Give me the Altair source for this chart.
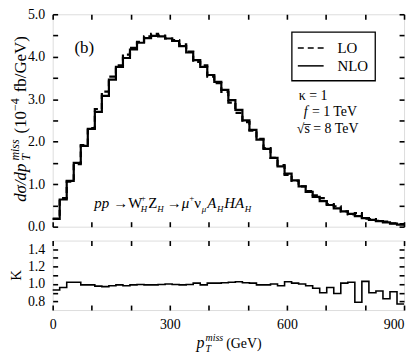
import altair as alt
import pandas as pd

# ---------------- data ----------------
bin_lo = [0, 18, 36, 54, 72, 90, 108, 126, 144, 162,
          180, 198, 216, 234, 252, 270, 288, 306, 324, 342,
          360, 378, 396, 414, 432, 450, 468, 486, 504, 522,
          540, 558, 576, 594, 612, 630, 648, 666, 684, 702,
          720, 738, 756, 774, 792, 810, 828, 846, 864, 882]
bin_hi_last = 900

nlo = [0.18, 0.64, 1.08, 1.50, 1.90, 2.30, 2.70, 3.08, 3.46, 3.76,
       3.97, 4.17, 4.33, 4.44, 4.49, 4.48, 4.43, 4.37, 4.25, 4.10,
       3.92, 3.76, 3.57, 3.41, 3.22, 2.98, 2.75, 2.50, 2.28, 2.05,
       1.83, 1.62, 1.42, 1.25, 1.09, 0.95, 0.82, 0.70, 0.60, 0.51,
       0.43, 0.36, 0.30, 0.25, 0.20, 0.16, 0.13, 0.10, 0.07, 0.05]

lo = [0.19, 0.67, 1.06, 1.47, 1.92, 2.32, 2.77, 3.18, 3.53, 3.80,
      4.05, 4.21, 4.35, 4.48, 4.54, 4.50, 4.43, 4.39, 4.29, 4.12,
      3.88, 3.80, 3.53, 3.38, 3.17, 2.92, 2.68, 2.46, 2.26, 2.07,
      1.85, 1.62, 1.45, 1.22, 1.08, 0.95, 0.84, 0.74, 0.67, 0.53,
      0.48, 0.36, 0.29, 0.32, 0.19, 0.18, 0.14, 0.12, 0.08, 0.06]

kfac = [0.93, 0.96, 1.02, 1.02, 0.99, 0.99, 0.975, 0.97, 0.98, 0.99,
        0.98, 0.99, 0.995, 0.99, 0.99, 0.995, 1.00, 0.995, 0.99, 0.995,
        1.01, 0.99, 1.01, 1.01, 1.015, 1.02, 1.025, 1.015, 1.01, 0.99,
        0.99, 1.00, 0.98, 1.025, 1.01, 1.00, 0.98, 0.95, 0.90, 0.96,
        0.89, 1.01, 1.02, 0.79, 1.03, 0.90, 0.92, 0.83, 0.91, 0.77]

x_ticks = [0, 100, 200, 300, 400, 500, 600, 700, 800, 900]
y_ticks_top = [0, 0.5, 1, 1.5, 2, 2.5, 3, 3.5, 4, 4.5, 5]
y_ticks_k = [0.8, 0.9, 1.0, 1.1, 1.2, 1.3, 1.4]

series_names = ["LO", "NLO"]

# ---------------- tables ----------------
edges = bin_lo + [bin_hi_last]
top_df = pd.DataFrame({
    "pt": edges + edges,
    "val": lo + [lo[-1]] + nlo + [nlo[-1]],
    "series": [series_names[0]] * len(edges) + [series_names[1]] * len(edges),
})
k_df = pd.DataFrame({"pt": edges, "k": kfac + [kfac[-1]]})

# ---------------- styling ----------------
SERIF = "Liberation Serif"
W, H1, H2 = 354, 214, 70
TK = 5

WID = {' ': .25, '(': .333, ')': .333, '/': .278, '.': .25, '=': .564, '+': .564,
       '\u2212': .564, '\u2192': .75, 'a': .444, 'b': .5, 'd': .5, 'e': .444,
       'f': .333, 'i': .278, 'm': .722, 'p': .5, 's': .389, 'G': .722, 'V': .722,
       'T': .611, 'W': .833, 'Z': .611, 'A': .65, 'H': .722, 'K': .722,
       '\u03c3': .55, '\u03bc': .5, '\u03bd': .5}


def tw(s, size):
    return sum(WID.get(c, 0.5) for c in s) * size


def piece(txt, x, y, size, italic=False, angle=0, align="left", baseline="alphabetic"):
    kw = dict(text=txt, font=SERIF, fontSize=size, color="black", align=align, baseline=baseline)
    if italic:
        kw["fontStyle"] = "italic"
    if angle:
        kw["angle"] = angle
    return alt.Chart(pd.DataFrame({"o": [0]})).mark_text(**kw).encode(
        x=alt.value(x), y=alt.value(y))


def rich(segs, x0, y0, angle=0):
    """segs: list of (gap_before, [(text, size, italic, shift), ...])"""
    out, adv = [], 0.0
    for gap, seg in segs:
        adv += gap
        w = 0.0
        for (t, s, it, sh) in seg:
            if angle == 0:
                px, py = x0 + adv, y0 - sh
            else:
                px, py = x0 - sh, y0 - adv
            out.append(piece(t, px, py, s, it, angle))
            w = max(w, tw(t, s))
        adv += w
    return out


def ax(orient, values, labels=False, label_expr=None, pad=8, label_align=None):
    kw = dict(orient=orient, values=values, domain=False, grid=False, ticks=True,
              tickSize=TK, offset=-TK, tickWidth=1.6, tickColor="black",
              labels=labels, title=None)
    if labels:
        kw.update(labelExpr=label_expr, labelPadding=pad, labelFont=SERIF,
                  labelFontSize=14, labelColor="black", labelFlush=False,
                  labelOverlap=False, labelBound=False)
    if label_align is not None:
        kw["labelAlign"] = label_align
    return alt.Axis(**kw)


xscale = alt.Scale(domain=[0, 900], nice=False, zero=False)
y1scale = alt.Scale(domain=[0, 5], nice=False)
y2scale = alt.Scale(domain=[0.7, 1.5], nice=False, zero=False)

# ---------------- top panel ----------------
lines = alt.Chart(top_df).mark_line(interpolate="step-after", color="black", strokeWidth=2.2).encode(
    x=alt.X("pt:Q", scale=xscale, axis=ax("bottom", x_ticks)),
    y=alt.Y("val:Q", scale=y1scale,
            axis=ax("left", y_ticks_top, True,
                    "datum.value % 1 === 0 ? format(datum.value, '.1f') : ''")),
    strokeDash=alt.StrokeDash("series:N", legend=None,
                              scale=alt.Scale(domain=series_names, range=[[6, 4], [1, 0]])),
)
mirror_top = alt.Chart(top_df).mark_line(strokeOpacity=0).encode(
    x=alt.X("pt:Q", scale=xscale, axis=ax("top", x_ticks)),
    y=alt.Y("val:Q", scale=y1scale, axis=ax("right", y_ticks_top)),
)

legend_box = alt.Chart(pd.DataFrame({"o": [0]})).mark_rect(
    fill="white", stroke="black", strokeWidth=1.3).encode(
    x=alt.value(241), x2=alt.value(325), y=alt.value(18), y2=alt.value(67))
leg_lo = alt.Chart(pd.DataFrame({"o": [0]})).mark_rule(
    color="black", strokeWidth=1.5, strokeDash=[6, 4]).encode(
    x=alt.value(247), x2=alt.value(273), y=alt.value(34))
leg_nlo = alt.Chart(pd.DataFrame({"o": [0]})).mark_rule(
    color="black", strokeWidth=1.5).encode(
    x=alt.value(247), x2=alt.value(273), y=alt.value(52))

annots = [
    piece(series_names[0], 287, 34, 15, baseline="middle"),
    piece(series_names[1], 287, 52, 15, baseline="middle"),
    piece("(b)", 22, 34, 17, baseline="middle"),
    piece("\u03ba = 1", 248, 82, 14, baseline="middle"),
    piece("f", 253, 99, 14, italic=True, baseline="middle"),
    piece("= 1 TeV", 253 + tw("f ", 14), 99, 14, baseline="middle"),
    piece("\u221as\u0305 = 8 TeV", 246, 116, 14, baseline="middle"),
]

B, S = 15, 9
process = rich([
    (0, [("pp", B, True, 0)]),
    (4, [("\u2192", B, False, 0)]),
    (4, [("W", B, False, 0)]),
    (0, [("+", S, False, 7), ("H", S, True, -4)]),
    (1, [("Z", B, False, 0)]),
    (0, [("H", S, True, -4)]),
    (3, [("\u2192", B, False, 0)]),
    (4, [("\u03bc", B, True, 0)]),
    (0, [("+", S, False, 7)]),
    (0, [("\u03bd", B, False, 0)]),
    (0, [("\u03bc", S, True, -4)]),
    (1, [("A", B, True, 0)]),
    (0, [("H", S, True, -4)]),
    (1, [("H", B, True, 0)]),
    (0, [("A", B, True, 0)]),
    (0, [("H", S, True, -4)]),
], 42, 195)

ytitle = rich([
    (0, [("d\u03c3/dp", 17, True, 0)]),
    (2, [("miss", 12, True, 7), ("T", 12, True, -4)]),
    (6, [("(10", 17, False, 0)]),
    (0, [("\u22124", 12, False, 7)]),
    (6, [("fb/GeV)", 17, False, 0)]),
], -27, 189, angle=270)

top = alt.layer(lines, mirror_top, legend_box, leg_lo, leg_nlo, *annots, *process, *ytitle).properties(
    width=W, height=H1)

# ---------------- bottom panel ----------------
x_label_align = {"condition": {"test": "datum.value === 900", "value": "right"}, "value": "center"}
kline = alt.Chart(k_df).mark_line(interpolate="step-after", color="black", strokeWidth=1.6).encode(
    x=alt.X("pt:Q", scale=xscale,
            axis=ax("bottom", x_ticks, True,
                    "datum.value % 300 === 0 ? format(datum.value, 'd') : ''", pad=8,
                    label_align=x_label_align)),
    y=alt.Y("k:Q", scale=y2scale,
            axis=ax("left", y_ticks_k, True,
                    "indexof(['0.8','1.0','1.2','1.4'], format(datum.value, '.1f')) >= 0 ? format(datum.value, '.1f') : ''")),
)
mirror_bot = alt.Chart(k_df).mark_line(strokeOpacity=0).encode(
    x=alt.X("pt:Q", scale=xscale, axis=ax("top", x_ticks)),
    y=alt.Y("k:Q", scale=y2scale, axis=ax("right", y_ticks_k)),
)
ktitle = [piece("K", -37, 35, 15, angle=270, align="center", baseline="middle")]
xtitle = rich([
    (0, [("p", 16, True, 0)]),
    (1, [("miss", 10, True, 7), ("T", 10, True, -4)]),
    (3, [("(GeV)", 14, False, 0)]),
], 145, H2 + 38)

bottom = alt.layer(kline, mirror_bot, *ktitle, *xtitle).properties(width=W, height=H2)

chart = alt.vconcat(top, bottom, spacing=4).properties(
    padding={"left": 0, "top": -3, "right": 0, "bottom": 0}
).configure_view(stroke="black", strokeWidth=2.5).configure(background="white")

chart.save("out.html", embed_options={"renderer": "svg", "actions": False})
